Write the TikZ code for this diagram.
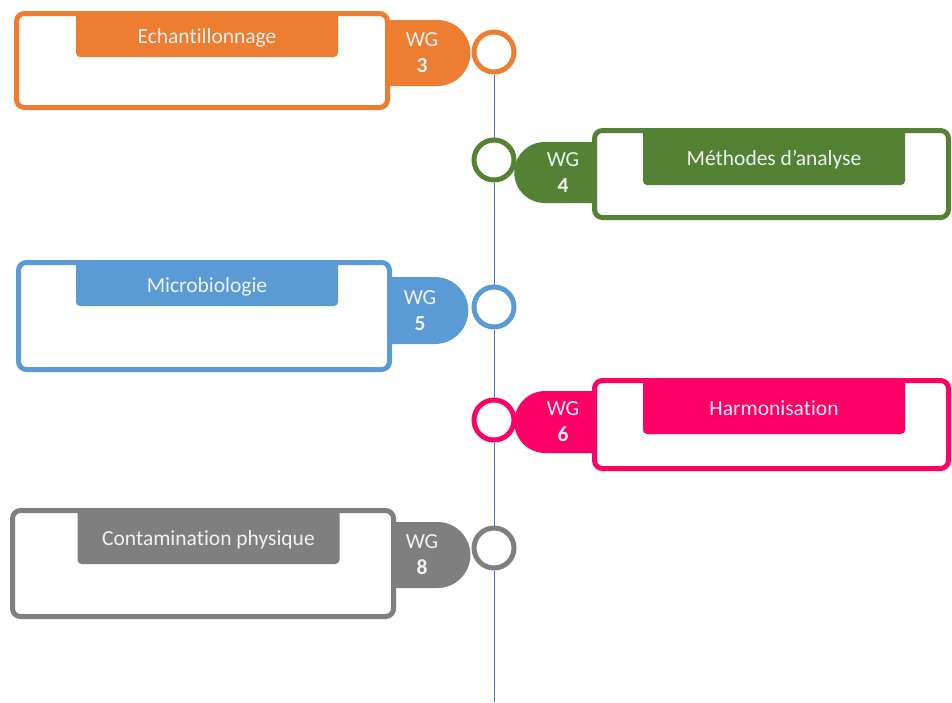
\documentclass[tikz,border=0pt]{standalone}
\usepackage{fontspec}
\setmainfont{Carlito}[Ligatures=NoCommon]
\usetikzlibrary{shapes.misc}

\definecolor{wgorange}{HTML}{ED7D31}
\definecolor{wggreen}{HTML}{548235}
\definecolor{wgblue}{HTML}{5B9BD5}
\definecolor{wgpink}{HTML}{FF0066}
\definecolor{wggray}{HTML}{7F7F7F}
\definecolor{axis}{HTML}{4472C4}

\begin{document}
\begin{tikzpicture}[x=1pt,y=-1pt,
    every node/.style={font=\fontsize{21.5}{26}\selectfont, text=white!95!black, inner sep=0pt},
    frame/.style={draw=#1, fill=white, line width=5pt, rounded corners=8pt},
    title/.style={fill=#1, rounded corners=4pt, minimum width=262pt, text height=18pt, text depth=0pt},
    wgleft/.style={fill=#1, shape=rounded rectangle, rounded rectangle west arc=none, align=center, minimum width=90pt},
    wgright/.style={fill=#1, shape=rounded rectangle, rounded rectangle east arc=none, align=center, minimum width=90pt},
    dot/.style={circle, draw=#1, fill=white, line width=5pt, minimum size=40pt}]

    \useasboundingbox (0,0) rectangle (952,702);

    \node[wgleft=wgorange, minimum height=66pt] (wg3) at (422,53) {WG\\\textbf{3}};
    \node[wgright=wggreen, minimum height=61pt] (wg4) at (563,172.5) {WG\\\textbf{4}};
    \node[wgleft=wgblue, minimum height=67pt] (wg5) at (420,310.5) {WG\\\textbf{5}};
    \node[wgright=wgpink, minimum height=62pt] (wg6) at (563,422) {WG\\\textbf{6}};
    \node[wgleft=wggray, minimum height=66pt] (wg8) at (422,555) {WG\\\textbf{8}};

    \node[frame=wgorange, minimum width=371pt, minimum height=94pt] (ech) at (202,60.5) {};
    \node[frame=wggreen, minimum width=354pt, minimum height=87pt] (meth) at (771.5,174) {};
    \node[frame=wgblue, minimum width=371pt, minimum height=107pt] (micro) at (204,316) {};
    \node[frame=wgpink, minimum width=354pt, minimum height=88pt] (harm) at (771.5,424.5) {};
    \node[frame=wggray, minimum width=381pt, minimum height=106pt] (contam) at (203,563.5) {};

    \node[title=wgorange, minimum height=46pt] (echT) at (207,34) {Echantillonnage};
    \node[title=wggreen, minimum height=57pt] (methT) at (774,156.5) {Méthodes d’analyse};
    \node[title=wgblue, minimum height=46pt] (microT) at (207,283) {Microbiologie};
    \node[title=wgpink, minimum height=56pt] (harmT) at (774,406) {Harmonisation};
    \node[title=wggray, minimum height=56pt] (contamT) at (208.5,536) {Contamination physique};

    \node[dot=wgorange] (c3) at (494,52) {};
    \node[dot=wggreen] (c4) at (494,160) {};
    \node[dot=wgblue] (c5) at (494,307) {};
    \node[dot=wgpink] (c6) at (494,420) {};
    \node[dot=wggray] (c8) at (494,548) {};
    \coordinate (end) at (494,702);

    \draw[axis, line width=1pt] (c3) -- (c4) (c4) -- (c5) (c5) -- (c6) (c6) -- (c8) (c8) -- (end);

\end{tikzpicture}
\end{document}
